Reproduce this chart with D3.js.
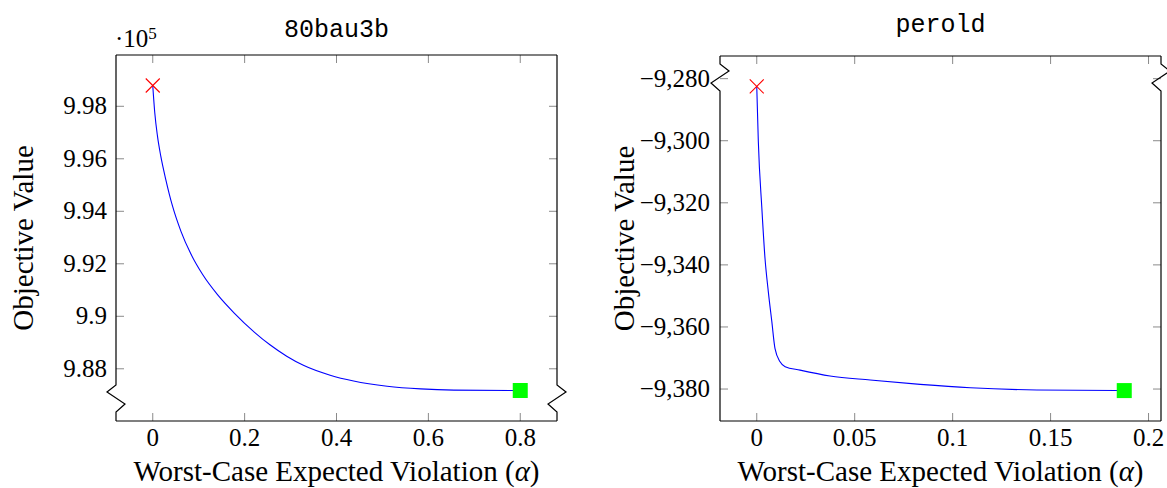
<!DOCTYPE html>
<html><head><meta charset="utf-8">
<script src="https://cdn.jsdelivr.net/npm/d3@7"></script>
<style>
html,body{margin:0;padding:0;background:#fff;}
svg{display:block;}
</style></head>
<body>
<svg id="chart" width="1167" height="488"></svg>
<script>
// ---- data: 80bau3b ----
const alpha80 = [0, 0.0044, 0.0103, 0.0175, 0.0284, 0.0431, 0.0612, 0.0831, 0.1086, 0.1414, 0.1779, 0.2216, 0.2551, 0.2916, 0.3279, 0.3862, 0.4372, 0.5102, 0.5830, 0.6557, 0.8];
const obj80 = [998792, 997752, 996861, 996099, 995211, 994194, 993246, 992370, 991589, 990815, 990114, 989390, 988914, 988480, 988133, 987756, 987535, 987337, 987234, 987189, 987173];
const xTicks80 = [0, 0.2, 0.4, 0.6, 0.8];
const xTickLabels80 = ["0", "0.2", "0.4", "0.6", "0.8"];
const yTicks80 = [988000, 990000, 992000, 994000, 996000, 998000];
const yTickLabels80 = ["9.88", "9.9", "9.92", "9.94", "9.96", "9.98"];

// ---- data: perold ----
const alphaPerold = [0, 0.0008, 0.0026, 0.0042, 0.0059, 0.0077, 0.0093, 0.0119, 0.0145, 0.0221, 0.0374, 0.0579, 0.0834, 0.1090, 0.1430, 0.1876];
const objPerold = [-9282.5, -9300.2, -9321.7, -9337.8, -9348.6, -9358.3, -9366.9, -9371.2, -9372.8, -9373.9, -9375.8, -9377.1, -9378.5, -9379.6, -9380.3, -9380.5];
const xTicksPerold = [0, 0.05, 0.1, 0.15, 0.2];
const xTickLabelsPerold = ["0", "0.05", "0.1", "0.15", "0.2"];
const yTicksPerold = [-9380, -9360, -9340, -9320, -9300, -9280];
const yTickLabelsPerold = ["\u22129,380", "\u22129,360", "\u22129,340", "\u22129,320", "\u22129,300", "\u22129,280"];

const titles = ["80bau3b", "perold"];
const xLabel = "Worst-Case Expected Violation (";
const yLabel = "Objective Value";

const svg = d3.select("#chart");
const SERIF = "'Liberation Serif', 'Times New Roman', serif";
const MONO = "'Liberation Mono', 'DejaVu Sans Mono', monospace";

function padded(arr) {
  const [lo, hi] = d3.extent(arr);
  const p = (hi - lo) * 0.1;
  return [lo - p, hi + p];
}

function drawPanel(cfg) {
  const {L, R, T, B, xs, ys, xTicks, xLabels, yTicks, yLabels, title, titleY, breakAt, breakDirs, ylabX, tickLabelGap} = cfg;
  const x = d3.scaleLinear().domain(padded(xs)).range([L, R]);
  const y = d3.scaleLinear().domain(padded(ys)).range([B, T]);
  const g = svg.append("g");
  const tl = 8;
  // ticks (inward, all four sides)
  g.selectAll(null).data(xTicks).join("path")
    .attr("d", d => `M${x(d)},${B}V${B - tl}M${x(d)},${T}V${T + tl}`)
    .attr("stroke", "#8a8a8a").attr("stroke-width", 1).attr("fill", "none");
  g.selectAll(null).data(yTicks).join("path")
    .attr("d", d => `M${L},${y(d)}H${L + tl}M${R},${y(d)}H${R - tl}`)
    .attr("stroke", "#8a8a8a").attr("stroke-width", 1).attr("fill", "none");
  // frame with crunch
  const y0 = breakAt === "bottom" ? B - 36 : T + 8;
  function side(x0, s) {
    return `M${x0},${T}V${y0}L${x0 + s * 9},${y0 + 7}L${x0 - s * 9},${y0 + 19}L${x0},${y0 + 27}V${B}`;
  }
  g.append("path").attr("d", `M${L},${T}H${R}M${L},${B}H${R}` + side(L, breakDirs[0]) + side(R, breakDirs[1]))
    .attr("stroke", "#000").attr("stroke-width", 1.2).attr("fill", "none");
  // tick labels
  g.selectAll(null).data(xTicks).join("text")
    .attr("x", d => x(d)).attr("y", 446).attr("text-anchor", "middle")
    .attr("font-family", SERIF).attr("font-size", 25)
    .text((d, i) => xLabels[i]);
  g.selectAll(null).data(yTicks).join("text")
    .attr("x", L - tickLabelGap).attr("y", d => y(d) + 8).attr("text-anchor", "end")
    .attr("font-family", SERIF).attr("font-size", 25)
    .text((d, i) => yLabels[i]);
  // axis labels
  const xl = g.append("text").attr("x", (L + R) / 2).attr("y", 481).attr("text-anchor", "middle")
    .attr("font-family", SERIF).attr("font-size", 29);
  xl.append("tspan").text(xLabel);
  xl.append("tspan").attr("font-style", "italic").text("\u03b1");
  xl.append("tspan").text(")");
  g.append("text").attr("transform", `translate(${ylabX},${(T + B) / 2}) rotate(-90)`)
    .attr("text-anchor", "middle").attr("font-family", SERIF).attr("font-size", 29)
    .text(yLabel);
  // title
  g.append("text").attr("x", (L + R) / 2).attr("y", titleY).attr("text-anchor", "middle")
    .attr("font-family", MONO).attr("font-size", 25).text(title);
  // curve
  const pts = xs.map((v, i) => [v, ys[i]]);
  g.append("path").datum(pts)
    .attr("d", d3.line().x(d => x(d[0])).y(d => y(d[1])).curve(d3.curveMonotoneX))
    .attr("fill", "none").attr("stroke", "#0000ff").attr("stroke-width", 1.1);
  // markers
  const first = pts[0], last = pts[pts.length - 1];
  const cx = x(first[0]), cy = y(first[1]);
  g.append("path").attr("d", `M${cx - 7},${cy - 7}L${cx + 7},${cy + 7}M${cx - 7},${cy + 7}L${cx + 7},${cy - 7}`)
    .attr("stroke", "#ff0000").attr("stroke-width", 1.1);
  g.append("rect").attr("x", x(last[0]) - 7.5).attr("y", y(last[1]) - 7.5)
    .attr("width", 15).attr("height", 15).attr("fill", "#00ff00");
  return g;
}

const g1 = drawPanel({L: 116, R: 557, T: 55, B: 421, xs: alpha80, ys: obj80,
  xTicks: xTicks80, xLabels: xTickLabels80, yTicks: yTicks80, yLabels: yTickLabels80,
  title: titles[0], titleY: 37, breakAt: "bottom", breakDirs: [-1, 1], ylabX: 33, tickLabelGap: 9});
const mult = g1.append("text").attr("x", 115).attr("y", 47).attr("font-family", SERIF).attr("font-size", 25);
mult.append("tspan").text("\u00b710");
mult.append("tspan").attr("font-size", 17).attr("dy", -8).text("5");

drawPanel({L: 720, R: 1161, T: 56, B: 421, xs: alphaPerold, ys: objPerold,
  xTicks: xTicksPerold, xLabels: xTickLabelsPerold, yTicks: yTicksPerold, yLabels: yTickLabelsPerold,
  title: titles[1], titleY: 32, breakAt: "top", breakDirs: [1, 1], ylabX: 634, tickLabelGap: 10});
</script>
</body></html>
